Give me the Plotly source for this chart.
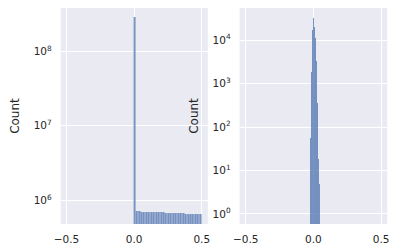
import plotly.graph_objects as go

# Left histogram: 40 bins of 0.0125 from 0 to 0.5
left_bin_start = 0.0
left_bin_width = 0.0125
left_counts = [2.88e8] + [7.25e5] * 3 + [6.96e5] * 14 + [6.76e5] * 12 + [6.55e5] * 10

# Right histogram: 10 narrow bins around zero
right_bin_start = -0.029
right_bin_width = 0.0072
right_counts = [57, 1870, 17000, 32600, 20200, 10900, 3290, 362, 18.4, 5]

x_ticks = [-0.5, 0.0, 0.5]
x_ticktext = ["\u22120.5", "0.0", "0.5"]
left_y_ticks = [1e6, 1e7, 1e8]
left_y_text = ["10<sup>6</sup>", "10<sup>7</sup>", "10<sup>8</sup>"]
right_y_ticks = [1, 10, 100, 1000, 10000]
right_y_text = ["10<sup>0</sup>", "10<sup>1</sup>", "10<sup>2</sup>", "10<sup>3</sup>", "10<sup>4</sup>"]

def centers(start, width, n):
    return [start + width * (i + 0.5) for i in range(n)]

bar_color = "rgba(76,114,176,0.75)"

fig = go.Figure()
fig.add_trace(go.Bar(x=centers(left_bin_start, left_bin_width, len(left_counts)), y=left_counts,
                     width=left_bin_width,
                     marker=dict(color=bar_color, line=dict(color="rgba(255,255,255,0.35)", width=0.25)),
                     xaxis="x", yaxis="y", showlegend=False))
fig.add_trace(go.Bar(x=centers(right_bin_start, right_bin_width, len(right_counts)), y=right_counts,
                     width=right_bin_width,
                     marker=dict(color=bar_color, line=dict(width=0)),
                     xaxis="x2", yaxis="y2", showlegend=False))

tick_font = dict(family="DejaVu Sans", size=10.5, color="#262626")
label_font = dict(family="DejaVu Sans", size=12, color="#262626")
axis_common = dict(showgrid=True, gridcolor="white", gridwidth=1, zeroline=False,
                   showline=False, ticks="", tickfont=tick_font)

fig.update_layout(
    width=397, height=251,
    margin=dict(l=0, r=0, t=0, b=0),
    paper_bgcolor="white", plot_bgcolor="#eaeaf2",
    bargap=0, font=tick_font,
    xaxis=dict(domain=[0.1385, 0.5176], range=[-0.543, 0.545], tickvals=x_ticks,
               ticktext=x_ticktext, anchor="y", ticklabelstandoff=8, **axis_common),
    yaxis=dict(domain=[0.1076, 0.968], type="log", range=[5.682, 8.581],
               tickvals=left_y_ticks, ticktext=left_y_text, anchor="x", ticklabelstandoff=8,
               title=dict(text="Count", font=label_font, standoff=11), **axis_common),
    xaxis2=dict(domain=[0.5995, 0.9798], range=[-0.545, 0.545], tickvals=x_ticks,
                ticktext=x_ticktext, anchor="y2", ticklabelstandoff=8, **axis_common),
    yaxis2=dict(domain=[0.1076, 0.968], type="log", range=[-0.23, 4.736],
                tickvals=right_y_ticks, ticktext=right_y_text, anchor="x2", ticklabelstandoff=8,
                title=dict(text="Count", font=label_font, standoff=11), **axis_common),
)

fig.write_html("out.html", config={"displayModeBar": False},
               post_script="document.body.style.margin='0';document.body.style.padding='0';")
